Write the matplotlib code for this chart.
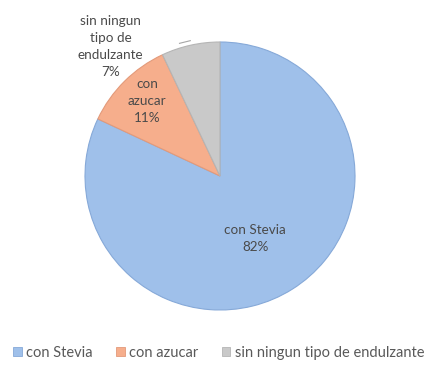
import matplotlib.pyplot as plt

labels = ["con Stevia", "con azucar", "sin ningun tipo de endulzante"]
values = [82, 11, 7]
slice_texts = ["con Stevia\n82%", "con\nazucar\n11%", "sin ningun\ntipo de\nendulzante\n7%"]
colors = ["#9fc0ea", "#f6ae8c", "#c9c9c9"]
edges = ["#86a9d8", "#e39a7a", "#b5b5b5"]

plt.rcParams["font.family"] = ["Lato", "DejaVu Sans"]
text_color = "#4a4a4a"

fig = plt.figure(figsize=(4.37, 3.70), dpi=100)
ax = fig.add_axes([85 / 437, 1 - 310 / 370, 270 / 437, 268 / 370])

wedges, _ = ax.pie(values, colors=colors, startangle=90, counterclock=False,
                   radius=1.0, wedgeprops=dict(linewidth=0.8))
for w, ec in zip(wedges, edges):
    w.set_edgecolor(ec)
ax.set_xlim(-1.0, 1.0)
ax.set_ylim(-1.0, 1.0)
ax.set_aspect("auto")
ax.axis("off")

# inside labels
ax.text(0.26, -0.47, slice_texts[0], ha="center", va="center",
        fontsize=9.7, color=text_color, linespacing=1.5)
ax.text(-0.54, 0.56, slice_texts[1], ha="center", va="center",
        fontsize=9.7, color=text_color, linespacing=1.5)
# outside label with a short leader line
ax.text(-0.81, 0.97, slice_texts[2], ha="center", va="center",
        fontsize=9.7, color=text_color, linespacing=1.5, clip_on=False)
ax.plot([-0.30, -0.22], [0.99, 1.01], color="#a6a6a6", lw=0.8, clip_on=False)

handles = [plt.Rectangle((0, 0), 1, 1, facecolor=c, edgecolor=e, lw=0.6)
           for c, e in zip(colors, edges)]
fig.legend(handles, labels, loc="center", bbox_to_anchor=(0.5, 1 - 353 / 370),
           ncol=3, frameon=False, fontsize=10.5, handlelength=0.6,
           handleheight=0.6, handletextpad=0.3, columnspacing=1.6,
           labelcolor="#595959")

fig.savefig("out.png", dpi=100, facecolor="white")
